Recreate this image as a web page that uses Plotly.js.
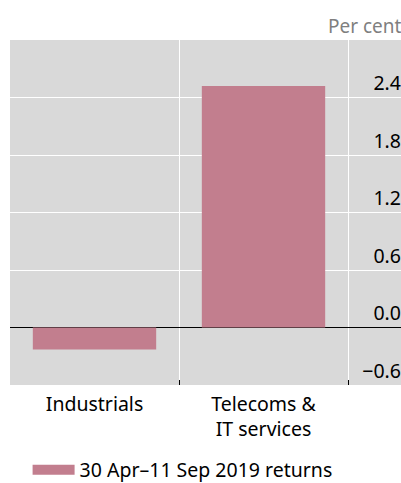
<!DOCTYPE html>
<html>
<head>
<meta charset="utf-8">
<script src="https://cdn.plot.ly/plotly-3.0.1.min.js"></script>
<style>html,body{margin:0;padding:0;background:#fff;}#chart{width:401px;height:483px;}</style>
</head>
<body>
<div id="chart"></div>
<script>
const categories = ["Industrials", "Telecoms &<br>IT services"];
const returns = [-0.23, 2.52];
const seriesName = "30 Apr\u201311 Sep 2019 returns";
const yTickVals = [-0.6, 0, 0.6, 1.2, 1.8, 2.4];
const yTickText = ["\u22120.6", "0.0", "0.6", "1.2", "1.8", "2.4"];

const barColor = "#c27e8e";
const FONT = "Noto Sans, Open Sans, sans-serif";
const FS = 19.5;

const traces = [
  {
    type: "bar",
    x: categories,
    y: returns,
    width: 0.73,
    marker: {color: barColor},
    showlegend: false,
    hoverinfo: "skip"
  },
  {
    type: "scatter",
    mode: "lines",
    x: [null],
    y: [null],
    name: seriesName,
    line: {color: barColor, width: 16},
    showlegend: true
  }
];

const layout = {
  width: 401,
  height: 483,
  margin: {l: 10, r: 0, t: 40, b: 98, autoexpand: false},
  paper_bgcolor: "#ffffff",
  plot_bgcolor: "#d9d9d9",
  font: {family: FONT, size: FS, color: "#000"},
  showlegend: true,
  xaxis: {
    type: "category",
    range: [-0.5, 1.8136],
    tickson: "boundaries",
    showgrid: true,
    gridcolor: "#ffffff",
    gridwidth: 1,
    ticks: "inside",
    ticklen: 5,
    tickwidth: 1,
    tickcolor: "#000",
    ticklabelstandoff: 5,
    showline: false,
    zeroline: false,
    tickfont: {family: FONT, size: FS, color: "#000"},
    fixedrange: true
  },
  yaxis: {
    side: "right",
    range: [-0.6, 3.0],
    tickvals: yTickVals,
    ticktext: yTickText,
    ticklabelposition: "inside",
    ticklabelshift: -14,
    ticklabelstandoff: -3,
    ticks: "",
    showgrid: true,
    gridcolor: "#ffffff",
    gridwidth: 1,
    zeroline: true,
    zerolinecolor: "#000",
    zerolinewidth: 1.3,
    showline: false,
    tickfont: {family: FONT, size: FS, color: "#000"},
    fixedrange: true
  },
  legend: {
    orientation: "h",
    x: 0.045,
    xanchor: "left",
    yref: "container",
    y: 0.027,
    yanchor: "middle",
    font: {family: FONT, size: FS, color: "#000"},
    bgcolor: "rgba(0,0,0,0)",
    itemwidth: 42
  },
  annotations: [
    {
      text: "Per cent",
      xref: "paper",
      yref: "paper",
      x: 1,
      y: 1,
      xanchor: "right",
      yanchor: "middle",
      yshift: 14,
      xshift: 3,
      showarrow: false,
      font: {family: FONT, size: 19, color: "#7f7f7f"}
    }
  ]
};

Plotly.newPlot("chart", traces, layout, {displayModeBar: false, staticPlot: true});
</script>
</body>
</html>
